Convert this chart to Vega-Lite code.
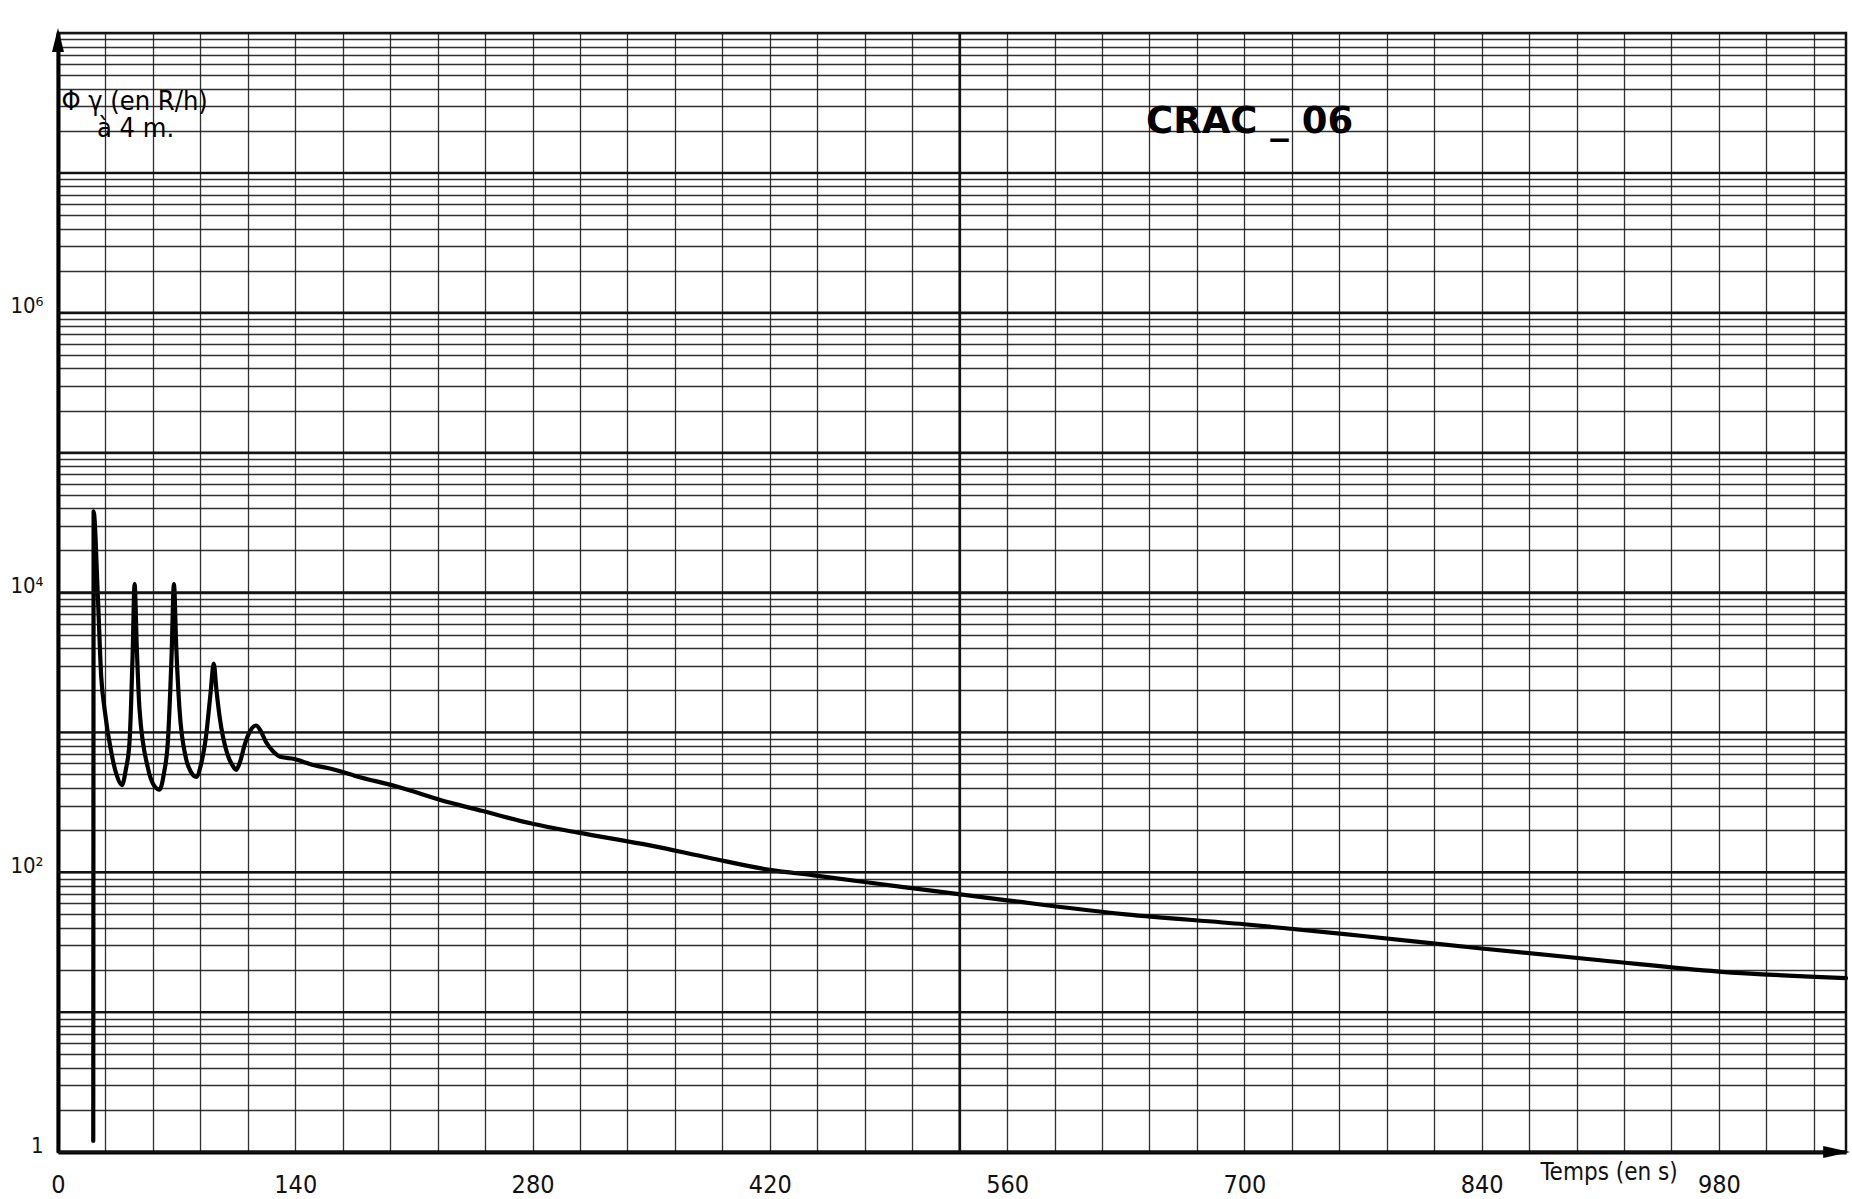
{
  "$schema": "https://vega.github.io/schema/vega-lite/v6.json",
  "width": 1788,
  "height": 1119,
  "autosize": {"type": "none"},
  "padding": {"left": 58, "top": 33, "right": 6, "bottom": 47},
  "background": "white",
  "config": {
    "view": {"stroke": "#111", "strokeWidth": 2.5},
    "axis": {"labelFont": "DejaVu Sans Condensed", "titleFont": "DejaVu Sans Condensed", "labelColor": "#111", "titleColor": "#111"}
  },
  "datasets": {
    "decades": [{"v": 1}, {"v": 10}, {"v": 100}, {"v": 1000}, {"v": 10000}, {"v": 100000}, {"v": 1000000}, {"v": 10000000}],
    "major": [{"t": 532}],
    "curve": [
      {"i": 0, "t": 20.8, "v": 1.2}, {"i": 1, "t": 21, "v": 38000}, {"i": 2, "t": 23.5, "v": 9500}, {"i": 3, "t": 25.5, "v": 2500},
      {"i": 4, "t": 27.5, "v": 1460}, {"i": 5, "t": 31.4, "v": 725}, {"i": 6, "t": 34.5, "v": 500}, {"i": 7, "t": 37.7, "v": 420},
      {"i": 8, "t": 40, "v": 540}, {"i": 9, "t": 42.2, "v": 850}, {"i": 10, "t": 44, "v": 3500}, {"i": 11, "t": 45.2, "v": 11500},
      {"i": 12, "t": 46.5, "v": 4000}, {"i": 13, "t": 48.1, "v": 1460}, {"i": 14, "t": 53, "v": 560}, {"i": 15, "t": 56.5, "v": 420},
      {"i": 16, "t": 59.9, "v": 390}, {"i": 17, "t": 62.5, "v": 510}, {"i": 18, "t": 64.8, "v": 850}, {"i": 19, "t": 67, "v": 3500},
      {"i": 20, "t": 68.4, "v": 11500}, {"i": 21, "t": 69.8, "v": 4000}, {"i": 22, "t": 71.7, "v": 1460}, {"i": 23, "t": 75.6, "v": 646},
      {"i": 24, "t": 78.5, "v": 520}, {"i": 25, "t": 81.5, "v": 480}, {"i": 26, "t": 84.5, "v": 600}, {"i": 27, "t": 87.4, "v": 950},
      {"i": 28, "t": 90, "v": 1900}, {"i": 29, "t": 91.9, "v": 3100}, {"i": 30, "t": 93.5, "v": 2000}, {"i": 31, "t": 95.3, "v": 1310},
      {"i": 32, "t": 100.2, "v": 684}, {"i": 33, "t": 103, "v": 580}, {"i": 34, "t": 105.1, "v": 540}, {"i": 35, "t": 107.5, "v": 620},
      {"i": 36, "t": 110, "v": 805}, {"i": 37, "t": 113.5, "v": 1030}, {"i": 38, "t": 116.9, "v": 1120}, {"i": 39, "t": 119.5, "v": 1030},
      {"i": 40, "t": 122.8, "v": 850}, {"i": 41, "t": 127, "v": 730}, {"i": 42, "t": 131.6, "v": 666}, {"i": 43, "t": 139.5, "v": 646},
      {"i": 44, "t": 145, "v": 615}, {"i": 45, "t": 151.3, "v": 582}, {"i": 46, "t": 161, "v": 550}, {"i": 47, "t": 168, "v": 520},
      {"i": 48, "t": 175, "v": 490}, {"i": 49, "t": 200, "v": 410}, {"i": 50, "t": 231, "v": 315}, {"i": 51, "t": 250, "v": 275},
      {"i": 52, "t": 280, "v": 222}, {"i": 53, "t": 307, "v": 192}, {"i": 54, "t": 350, "v": 155}, {"i": 55, "t": 384, "v": 127},
      {"i": 56, "t": 420, "v": 104}, {"i": 57, "t": 446, "v": 95}, {"i": 58, "t": 500, "v": 78}, {"i": 59, "t": 560, "v": 63},
      {"i": 60, "t": 630, "v": 50}, {"i": 61, "t": 700, "v": 42.5}, {"i": 62, "t": 770, "v": 35}, {"i": 63, "t": 840, "v": 28.5},
      {"i": 64, "t": 910, "v": 23.5}, {"i": 65, "t": 980, "v": 19.5}, {"i": 66, "t": 1055, "v": 17.5}
    ],
    "labels": [
      {"t": 2, "v": 28200000, "label": "Φ γ (en R/h)"},
      {"t": 23, "v": 18000000, "label": "à 4 m."}
    ],
    "title": [{"t": 642, "v": 19300000, "label": "CRAC _ 06"}],
    "arrowUp": [{"t": 0, "v": 89000000}],
    "arrowRight": [{"t": 1049.5, "v": 1}]
  },
  "layer": [
    {
      "data": {"name": "curve"},
      "mark": {"type": "line", "color": "#000", "strokeWidth": 4.2, "strokeJoin": "round", "strokeCap": "round", "interpolate": "monotone"},
      "encoding": {
        "x": {
          "field": "t", "type": "quantitative",
          "scale": {"domain": [0, 1055], "nice": false, "zero": false},
          "axis": {
            "values": [0, 28, 56, 84, 112, 140, 168, 196, 224, 252, 280, 308, 336, 364, 392, 420, 448, 476, 504, 532, 560, 588, 616, 644, 672, 700, 728, 756, 784, 812, 840, 868, 896, 924, 952, 980, 1008, 1036],
            "grid": true, "gridColor": "#1a1a1a", "gridWidth": 1.3, "gridOpacity": 0.9,
            "ticks": false,
            "labelExpr": "datum.value % 140 === 0 ? datum.label : ''",
            "labelFontSize": 25, "labelPadding": 20, "labelOverlap": false, "labelFlush": false,
            "domainColor": "#000", "domainWidth": 4,
            "title": "Temps (en s)", "titleFontSize": 24, "titleFontWeight": "normal",
            "titleAlign": "left", "titleX": 1482, "titleY": 27, "titleBaseline": "alphabetic"
          }
        },
        "y": {
          "field": "v", "type": "quantitative",
          "scale": {"type": "log", "domain": [1, 100000000], "nice": false},
          "axis": {
            "values": [1, 2, 3, 4, 5, 6, 7, 8, 9, 10, 20, 30, 40, 50, 60, 70, 80, 90, 100, 200, 300, 400, 500, 600, 700, 800, 900, 1000, 2000, 3000, 4000, 5000, 6000, 7000, 8000, 9000, 10000, 20000, 30000, 40000, 50000, 60000, 70000, 80000, 90000, 100000, 200000, 300000, 400000, 500000, 600000, 700000, 800000, 900000, 1000000, 2000000, 3000000, 4000000, 5000000, 6000000, 7000000, 8000000, 9000000, 10000000, 20000000, 30000000, 40000000, 50000000, 60000000, 70000000, 80000000, 90000000, 100000000],
            "grid": true, "gridColor": "#1a1a1a", "gridWidth": 1.3, "gridOpacity": 0.9,
            "ticks": false,
            "labelExpr": "datum.value === 1 ? '1' : datum.value === 100 ? '10²' : datum.value === 10000 ? '10⁴' : datum.value === 1000000 ? '10⁶' : ''",
            "labelFontSize": 22, "labelPadding": 15, "labelBaseline": "alphabetic", "labelOverlap": false, "labelFlush": false,
            "domainColor": "#000", "domainWidth": 4,
            "title": null
          }
        },
        "order": {"field": "i", "type": "quantitative"}
      }
    },
    {
      "data": {"name": "decades"},
      "mark": {"type": "rule", "color": "#111", "strokeWidth": 2.4},
      "encoding": {"y": {"field": "v", "type": "quantitative"}}
    },
    {
      "data": {"name": "major"},
      "mark": {"type": "rule", "color": "#111", "strokeWidth": 2.4},
      "encoding": {"x": {"field": "t", "type": "quantitative"}}
    },
    {
      "data": {"name": "labels"},
      "mark": {"type": "text", "font": "DejaVu Sans Condensed", "fontSize": 27, "align": "left", "baseline": "alphabetic", "color": "#000"},
      "encoding": {
        "x": {"field": "t", "type": "quantitative"},
        "y": {"field": "v", "type": "quantitative"},
        "text": {"field": "label"}
      }
    },
    {
      "data": {"name": "title"},
      "mark": {"type": "text", "font": "DejaVu Sans", "fontSize": 37, "fontWeight": "bold", "align": "left", "baseline": "alphabetic", "color": "#000"},
      "encoding": {
        "x": {"field": "t", "type": "quantitative"},
        "y": {"field": "v", "type": "quantitative"},
        "text": {"field": "label"}
      }
    },
    {
      "data": {"name": "arrowUp"},
      "mark": {"type": "point", "shape": "M-0.5,1L0,-1L0.5,1Z", "size": 576, "filled": true, "color": "#000", "opacity": 1},
      "encoding": {
        "x": {"field": "t", "type": "quantitative"},
        "y": {"field": "v", "type": "quantitative"}
      }
    },
    {
      "data": {"name": "arrowRight"},
      "mark": {"type": "point", "shape": "M-1,-0.45L1,0L-1,0.45Z", "size": 729, "filled": true, "color": "#000", "opacity": 1},
      "encoding": {
        "x": {"field": "t", "type": "quantitative"},
        "y": {"field": "v", "type": "quantitative"}
      }
    }
  ]
}
